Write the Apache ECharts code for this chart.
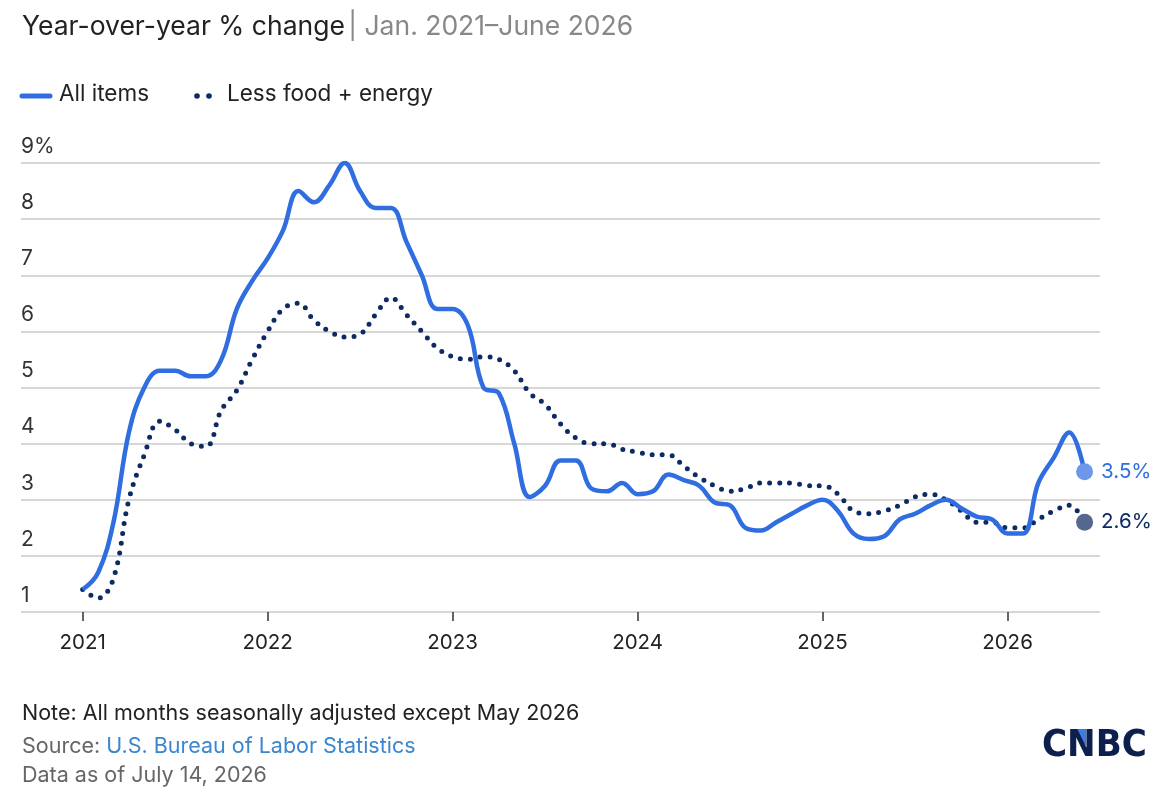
<!DOCTYPE html>
<html><head><meta charset="utf-8">
<script src="https://cdn.jsdelivr.net/npm/echarts@6/dist/echarts.min.js"></script>
<style>body{margin:0;background:#fff}#c{width:1160px;height:808px}</style></head>
<body><div id="c"></div>
<script>
// Months since Jan 2021 (0 = Jan 2021 ... 65 = June 2026)
const allItems = [1.4,1.7,2.6,4.2,5.0,5.3,5.3,5.2,5.2,5.5,6.4,6.9,
  7.3,7.8,8.5,8.3,8.6,9.0,8.5,8.2,8.2,7.6,7.0,6.4,
  6.4,6.1,5.0,4.9,4.0,3.05,3.25,3.7,3.7,3.2,3.15,3.3,
  3.1,3.15,3.45,3.35,3.25,2.95,2.9,2.5,2.45,2.6,2.75,2.9,
  3.0,2.8,2.4,2.3,2.35,2.65,2.75,2.9,3.0,2.85,2.7,2.65,
  2.4,2.4,3.3,3.75,4.2,3.5];
const coreItems = [1.4,1.25,1.6,3.0,3.8,4.4,4.25,4.0,3.95,4.6,4.95,5.5,
  6.0,6.4,6.5,6.2,6.0,5.9,5.95,6.3,6.6,6.3,6.0,5.7,
  5.55,5.5,5.55,5.5,5.3,4.9,4.7,4.35,4.1,4.0,4.0,3.9,
  3.85,3.8,3.8,3.6,3.4,3.25,3.15,3.2,3.3,3.3,3.3,3.25,
  3.25,3.1,2.8,2.75,2.8,2.9,3.05,3.1,3.0,2.8,2.6,2.6,
  2.5,2.5,2.65,2.8,2.9,2.6];
const yearLabels = ['2021','2022','2023','2024','2025','2026'];
const yearPos = [0,12,24,36,48,60];

const BLUE='#2f6de0', NAVY='#0c2a63';
const toPts = a => a.map((v,i)=>[i,v]);
const chart = echarts.init(document.getElementById('c'));
const F='Inter, "Open Sans", sans-serif';
chart.setOption({
  animation:false,
  textStyle:{fontFamily:F},
  grid:{left:21,right:60,top:163,bottom:196},
  graphic:[
    {type:'text',left:22,top:14,style:{rich:{a:{fontSize:26.5,fill:'#222',fontFamily:F},b:{fontSize:26.5,fill:'#888',fontFamily:F}},text:'{a|Year-over-year % change} {b|| Jan. 2021–June 2026}'}},
    {type:'line',shape:{x1:22,y1:96,x2:50,y2:96},style:{stroke:BLUE,lineWidth:5,lineCap:'round'}},
    {type:'text',left:59,top:83,style:{text:'All items',fontSize:22.5,fill:'#222',fontFamily:F}},
    {type:'circle',shape:{cx:197,cy:96,r:2.8},style:{fill:NAVY}},
    {type:'circle',shape:{cx:209,cy:96,r:2.8},style:{fill:NAVY}},
    {type:'text',left:227,top:83,style:{text:'Less food + energy',fontSize:22.5,fill:'#222',fontFamily:F}},
    {type:'text',left:22,top:703,style:{text:'Note: All months seasonally adjusted except May 2026',fontSize:21.5,fill:'#222',fontFamily:F}},
    {type:'text',left:22,top:736,style:{rich:{a:{fontSize:21.5,fill:'#666',fontFamily:F},b:{fontSize:21.5,fill:'#3a86cf',fontFamily:F}},text:'{a|Source: }{b|U.S. Bureau of Labor Statistics}'}},
    {type:'text',left:22,top:765,style:{text:'Data as of July 14, 2026',fontSize:21.5,fill:'#666',fontFamily:F}},
    {type:'polygon',shape:{points:[[1071,729],[1086,729],[1086,746]]},style:{fill:'#3b7be8'}},
    {type:'text',left:1042,top:727,style:{text:'CNBC',fontSize:38,fontWeight:'bold',fill:'#0c1f4d',fontFamily:'"DejaVu Sans Condensed", "Liberation Sans Narrow", sans-serif'}}
  ],
  xAxis:{type:'value',min:-4,max:66,
    axisLine:{show:false},splitLine:{show:false},
    axisTick:{show:true,customValues:yearPos,length:9,lineStyle:{color:'#333',width:1.5}},
    axisLabel:{customValues:yearPos,formatter:v=>yearLabels[yearPos.indexOf(v)]||'',fontSize:20.5,color:'#222',margin:20,fontFamily:F}},
  yAxis:{type:'value',min:1,max:9,interval:1,
    axisLine:{show:false},axisTick:{show:false},
    splitLine:{show:true,lineStyle:{color:'#d6d6d6',width:2}},
    axisLabel:{inside:true,verticalAlign:'bottom',margin:0,padding:[0,0,6,0],fontSize:21,color:'#333',fontFamily:F,
      formatter:v=>v===9?'9%':String(v)}},
  series:[
    {type:'line',data:toPts(coreItems),smooth:0.4,symbol:'none',
      lineStyle:{color:NAVY,width:5,type:[0,10],cap:'round'},z:2,
      markPoint:{symbol:'circle',symbolSize:17,data:[{coord:[65,coreItems[65]],itemStyle:{color:'#55678f'}}],
        label:{show:true,position:'right',distance:8,formatter:'2.6%',color:NAVY,fontSize:20.5,fontFamily:F}}},
    {type:'line',data:toPts(allItems),smooth:0.4,symbol:'none',
      lineStyle:{color:BLUE,width:4.5},z:3,
      markPoint:{symbol:'circle',symbolSize:17,data:[{coord:[65,allItems[65]],itemStyle:{color:'#6d98ea'}}],
        label:{show:true,position:'right',distance:8,formatter:'3.5%',color:BLUE,fontSize:20.5,fontFamily:F}}}
  ]
});
</script></body></html>
